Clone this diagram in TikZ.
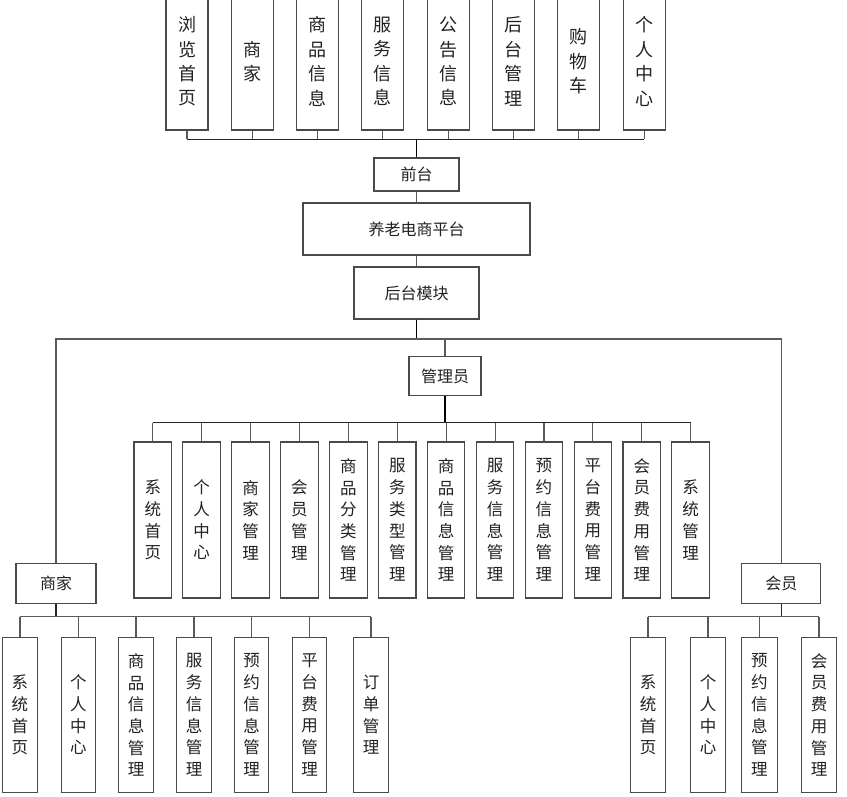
\documentclass[tikz,border=0pt]{standalone}
\usepackage{fontspec}
\setmainfont{Noto Sans CJK SC}
\definecolor{boxc}{HTML}{4A4A4A}
\definecolor{linec}{HTML}{5A5A5A}
\definecolor{txtc}{HTML}{222222}
\begin{document}
\begin{tikzpicture}[x=1pt,y=-1pt,
  box/.style={draw=boxc, line width=1.1pt, fill=white, inner sep=0pt, align=center, text=txtc},
  topbox/.style={box, minimum width=42pt, minimum height=137pt, font=\fontsize{18}{24.4}\selectfont},
  admbox/.style={box, minimum width=37.5pt, minimum height=156pt, font=\fontsize{16.5}{21.7}\selectfont},
  lowbox/.style={box, minimum width=34.5pt, minimum height=155.5pt, font=\fontsize{16.5}{21.7}\selectfont},
  lowboxr/.style={box, minimum width=35.7pt, minimum height=155.5pt, font=\fontsize{16.5}{21.7}\selectfont},
  midbox/.style={box, font=\fontsize{16}{19}\selectfont},
  thin/.style={draw=linec, line width=1.1pt},
  trunk/.style={draw=black, line width=1.9pt},
  bus/.style={draw=black!85, line width=1.3pt}]
\useasboundingbox (0,0) rectangle (847,797);
\begin{scope}
\clip (0,0) rectangle (847,797);
% top row
\foreach \i/\t in {1/{浏\\览\\首\\页},2/{商\\家},3/{商\\品\\信\\息},4/{服\\务\\信\\息},5/{公\\告\\信\\息},6/{后\\台\\管\\理},7/{购\\物\\车},8/{个\\人\\中\\心}}
  \node[topbox] (t\i) at ({187+65.3*(\i-1)},61.5) {\t};
\end{scope}
\coordinate (tbus) at (0,139.3);
\node[midbox, minimum width=85pt, minimum height=33pt] (qt) at (416.5,174.5) {前台};
\node[midbox, minimum width=227pt, minimum height=52pt] (pt) at (416.5,229) {养老电商平台};
\node[midbox, minimum width=125pt, minimum height=52pt] (ht) at (416.5,293) {后台模块};
\node[midbox, minimum width=72pt, minimum height=39pt] (gl) at (445,376) {管理员};
\node[midbox, minimum width=80pt, minimum height=40pt] (sj) at (56,583.3) {商家};
\node[midbox, minimum width=79pt, minimum height=40pt] (hy) at (781.3,583.3) {会员};
% admin row
\foreach \i/\t in {1/{系\\统\\首\\页},2/{个\\人\\中\\心},3/{商\\家\\管\\理},4/{会\\员\\管\\理},5/{商\\品\\分\\类\\管\\理},6/{服\\务\\类\\型\\管\\理},7/{商\\品\\信\\息\\管\\理},8/{服\\务\\信\\息\\管\\理},9/{预\\约\\信\\息\\管\\理},10/{平\\台\\费\\用\\管\\理},11/{会\\员\\费\\用\\管\\理},12/{系\\统\\管\\理}}
  \node[admbox] (a\i) at ({152.75+48.9*(\i-1)},520) {\t};
% merchant row
\foreach \i/\x/\t in {1/20/{系\\统\\首\\页},2/78.3/{个\\人\\中\\心},3/136/{商\\品\\信\\息\\管\\理},4/194/{服\\务\\信\\息\\管\\理},5/251.5/{预\\约\\信\\息\\管\\理},6/309.5/{平\\台\\费\\用\\管\\理},7/371/{订\\单\\管\\理}}
  \node[lowbox] (s\i) at (\x,715) {\t};
% member row
\foreach \i/\x/\t in {1/648/{系\\统\\首\\页},2/708/{个\\人\\中\\心},3/759.3/{预\\约\\信\\息\\管\\理},4/819/{会\\员\\费\\用\\管\\理}}
  \node[lowboxr] (m\i) at (\x,715) {\t};
% connectors top
\foreach \i in {1,...,8} \draw[thin] (t\i.south) -- (t\i.south |- tbus);
\draw[bus] (t1.south |- tbus) -- (t8.south |- tbus);
\draw[trunk] (qt.north) -- (qt.north |- tbus);
\draw[thin] (qt.south) -- (pt.north);
\draw[thin] (pt.south) -- (ht.north);
\coordinate (hbus) at (0,339);
\draw[trunk] (ht.south) -- (ht.south |- hbus);
\draw[thin] (sj.north) -- (sj.north |- hbus) -- (hy.north |- hbus) -- (hy.north);
\draw[thin] (gl.north |- hbus) -- (gl.north);
% admin
\coordinate (abus) at (0,422.7);
\draw[trunk] (gl.south) -- (gl.south |- abus);
\foreach \i in {1,...,12} \draw[thin] (a\i.north) -- (a\i.north |- abus);
\draw[bus] (a1.north |- abus) -- (a12.north |- abus);
% merchant
\coordinate (lbus) at (0,616.7);
\draw[bus] (sj.south) -- (sj.south |- lbus);
\foreach \i in {1,...,7} \draw[thin] (s\i.north) -- (s\i.north |- lbus);
\draw[thin] (s1.north |- lbus) -- (s7.north |- lbus);
% member
\draw[bus] (hy.south) -- (hy.south |- lbus);
\foreach \i in {1,...,4} \draw[thin] (m\i.north) -- (m\i.north |- lbus);
\draw[thin] (m1.north |- lbus) -- (m4.north |- lbus);
\end{tikzpicture}
\end{document}
